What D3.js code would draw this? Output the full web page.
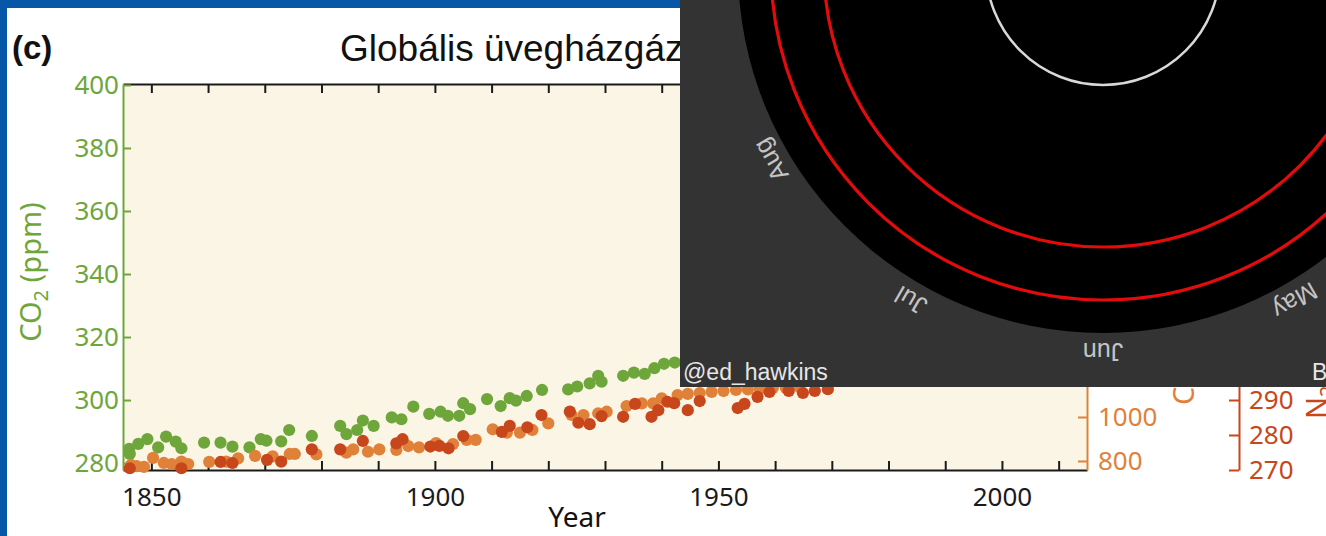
<!DOCTYPE html>
<html><head><meta charset="utf-8">
<script src="https://cdn.jsdelivr.net/npm/d3@7"></script>
<style>body{margin:0;background:#fff;overflow:hidden}svg{display:block}</style>
</head><body>
<script>
// ---- data ----
const co2Years=[1846.1,1846.2,1847.7,1849.3,1851.2,1852.6,1854.3,1855.3,1859.3,1862.2,1864.3,1867.3,1869.3,1870.3,1872.9,1874.3,1878.3,1883.3,1884.4,1886.3,1887.3,1889.2,1892.4,1894.1,1896.2,1899.0,1901.0,1902.3,1904.3,1905.0,1906.2,1909.2,1911.6,1913.2,1914.3,1916.2,1918.9,1923.5,1925.1,1927.3,1928.8,1929.4,1933.2,1935.1,1937.0,1938.7,1940.4,1942.3];
const co2Values=[284.5,282.9,286.1,287.6,285.0,288.4,286.8,284.7,286.5,286.5,285.2,285.0,287.6,287.1,286.9,290.5,288.6,291.8,289.2,290.5,293.5,291.8,294.5,293.9,297.9,295.6,296.3,295.0,295.0,299.0,297.1,300.3,298.1,300.6,299.8,301.3,303.2,303.4,304.3,305.3,307.7,305.8,307.7,308.7,308.3,310.1,311.5,311.9];
const ch4Years=[1846.4,1847.4,1848.7,1850.3,1852.2,1853.6,1855.3,1856.5,1860.2,1863.2,1865.3,1868.3,1871.4,1874.4,1875.3,1879.1,1884.4,1885.6,1888.2,1890.2,1893.2,1895.3,1897.2,1900.2,1903.2,1905.6,1907.2,1910.2,1912.7,1915.0,1917.2,1920.0,1924.1,1926.2,1928.8,1930.3,1933.8,1936.5,1938.5,1940.0,1942.8,1944.6,1946.7,1948.8,1950.9,1953.1,1955.2,1957.3,1959.6,1961.9,1964.3];
const ch4Values=[782,777,773,814,791,786,797,786,796,797,812,823,821,832,832,830,838,853,842,853,850,868,862,881,877,896,896,944,929,929,941,971,1009,1009,1017,1024,1050,1062,1062,1085,1100,1105,1109,1114,1118,1123,1125,1127,1132,1132,1136];
const n2oYears=[1846.2,1855.3,1862.2,1864.3,1870.4,1872.9,1878.3,1883.3,1887.3,1893.2,1894.3,1899.2,1900.8,1902.4,1905.0,1911.8,1913.2,1916.3,1918.8,1923.8,1925.3,1927.3,1929.4,1933.2,1935.3,1938.2,1939.4,1941.0,1942.2,1944.6,1946.7,1953.4,1954.6,1956.9,1959.0,1962.4,1964.9,1967.0,1969.3];
const n2oValues=[270.5,270.5,272.3,272.0,272.9,272.4,275.9,275.9,278.3,277.6,278.8,276.7,276.9,276.2,279.7,280.9,282.6,282.2,285.7,286.7,283.5,283.1,285.4,285.2,288.9,285.2,287.1,289.5,289.1,287.1,289.7,287.7,288.9,290.9,292.3,292.6,292.0,292.6,293.1];
const xTickLabels=[1850,1900,1950,2000];
const co2Ticks=[280,300,320,340,360,380,400];
const ch4Ticks=[800,1000,1200,1400,1600,1800,2000,2200,2400];
const n2oTicks=[270,280,290,300,310,320,330];
const months=["Jan","Feb","Mar","Apr","May","Jun","Jul","Aug","Sep","Oct","Nov","Dec"];
const titleText="Globális üvegházgáz-koncentrációk";

// ---- layout ----
const W=1326,H=536;
const L=123,R=1087,T=84,B=470;
const GREEN="#6ea63c",ORANGE="#e0813a",RED="#c8461b";
const FONT="'Noto Sans', sans-serif";
const fmt=d3.format("d");

const svg=d3.select("body").append("svg").attr("width",W).attr("height",H);

// blue frame
svg.append("rect").attr("x",0).attr("y",0).attr("width",W).attr("height",8).attr("fill","#0757a9");
svg.append("rect").attr("x",0).attr("y",0).attr("width",7).attr("height",H).attr("fill","#0757a9");

const x=d3.scaleLinear().domain([1845,2015]).range([L,R]);
const yCO2=d3.scaleLinear().domain([277.8,400.3]).range([B,T]);
const yCH4=d3.scaleLinear().domain([759,2514]).range([B,T]);
const yN2O=d3.scaleLinear().domain([270,380.3]).range([B,T]);

svg.append("rect").attr("x",L).attr("y",T).attr("width",R-L).attr("height",B-T).attr("fill","#fbf5e6");

function styleAxis(g,color,size){
  g.selectAll("path.domain").attr("stroke",color).attr("stroke-width",2);
  g.selectAll(".tick line").attr("stroke",color).attr("stroke-width",2);
  g.selectAll(".tick text").attr("fill",color).style("font-family",FONT).style("font-size",size+"px");
}

const decade=d3.range(1850,2011,10);
const gTop=svg.append("g").attr("transform",`translate(0,${T})`)
  .call(d3.axisTop(x).tickValues(decade).tickSize(-9).tickSizeOuter(0).tickFormat(""));
styleAxis(gTop,"#1a1a1a",26);
const gBot=svg.append("g").attr("transform",`translate(0,${B})`)
  .call(d3.axisBottom(x).tickValues(decade).tickSize(-9).tickSizeOuter(0).tickPadding(18)
  .tickFormat(d=>xTickLabels.includes(d)?fmt(d):""));
styleAxis(gBot,"#1a1a1a",26);

const gL=svg.append("g").attr("transform",`translate(${L},0)`)
  .call(d3.axisLeft(yCO2).tickValues(co2Ticks).tickSize(-8).tickSizeOuter(0).tickPadding(4).tickFormat(fmt));
styleAxis(gL,GREEN,26);
const gR1=svg.append("g").attr("transform",`translate(${R},0)`)
  .call(d3.axisRight(yCH4).tickValues(ch4Ticks).tickSize(-9).tickSizeOuter(0).tickPadding(11).tickFormat(fmt));
styleAxis(gR1,ORANGE,26);
const gR2=svg.append("g").attr("transform",`translate(1239,0)`)
  .call(d3.axisRight(yN2O).tickValues(n2oTicks).tickSize(-10).tickSizeOuter(0).tickPadding(10).tickFormat(fmt));
styleAxis(gR2,RED,26);

// points
function pts(years,vals,yS,color){
  svg.append("g").selectAll("circle").data(d3.zip(years,vals)).join("circle")
    .attr("cx",d=>x(d[0])).attr("cy",d=>yS(d[1])).attr("r",6.1).attr("fill",color);
}
pts(co2Years,co2Values,yCO2,GREEN);
pts(ch4Years,ch4Values,yCH4,ORANGE);
pts(n2oYears,n2oValues,yN2O,RED);

// texts
svg.append("text").attr("x",12).attr("y",59).text("(c)")
  .style("font-family","'Liberation Sans Narrow', 'Liberation Sans', sans-serif").style("font-weight","bold").style("font-size","33px").attr("fill","#111");
svg.append("text").attr("x",340).attr("y",61).text(titleText)
  .style("font-family","'Liberation Sans', sans-serif").style("font-size","37px").attr("fill","#111");
svg.append("text").attr("x",577).attr("y",527).attr("text-anchor","middle").text("Year")
  .style("font-family",FONT).style("font-size","28px").attr("fill","#111");

function axisLabel(xp,yp,anchor,main,sub,rest,color){
  const t=svg.append("text").attr("transform",`translate(${xp},${yp}) rotate(-90)`)
    .attr("text-anchor",anchor).style("font-family",FONT).style("font-size","29px").attr("fill",color);
  t.append("tspan").text(main);
  t.append("tspan").text(sub).attr("dy",7).style("font-size","20px");
  t.append("tspan").text(rest).attr("dy",-7);
}
axisLabel(41,272,"middle","CO","2"," (ppm)",GREEN);
axisLabel(1194,405,"start","CH","4"," (ppb)",ORANGE);
axisLabel(1327,419,"start","N","2","O (ppb)",RED);

// overlay screenshot (climate spiral)
const clip=svg.append("clipPath").attr("id","ov");
clip.append("rect").attr("x",680).attr("y",0).attr("width",W-680).attr("height",387);
const ov=svg.append("g").attr("clip-path","url(#ov)");
ov.append("rect").attr("x",680).attr("y",0).attr("width",W-680).attr("height",387).attr("fill","#333333");
const cx=1103,cy=-32;
ov.append("circle").attr("cx",cx).attr("cy",cy).attr("r",365).attr("fill","#000");
[332,279].forEach(r=>ov.append("circle").attr("cx",cx).attr("cy",cy).attr("r",r)
  .attr("fill","none").attr("stroke","#e30b0b").attr("stroke-width",3.2));
ov.append("circle").attr("cx",cx).attr("cy",cy).attr("r",117).attr("fill","none").attr("stroke","#d8d8d8").attr("stroke-width",2.5);
ov.selectAll("text.m").data(months).join("text").attr("class","m")
  .attr("transform",(d,i)=>{const a=30*(i+1);const rad=a*Math.PI/180;
    return `translate(${cx+384*Math.sin(rad)},${cy-384*Math.cos(rad)}) rotate(${a})`;})
  .attr("text-anchor","middle").attr("dy","0.35em").text(d=>d)
  .style("font-family","'Liberation Sans', sans-serif").style("font-size","25px").attr("fill","#c4c4c4");
ov.append("text").attr("x",683).attr("y",380).text("@ed_hawkins")
  .style("font-family","'Liberation Sans', sans-serif").style("font-size","23px").attr("fill","#e6e6e6");
ov.append("text").attr("x",1312).attr("y",380).text("B")
  .style("font-family","'Liberation Sans', sans-serif").style("font-size","23px").attr("fill","#e6e6e6");
</script>
</body></html>
